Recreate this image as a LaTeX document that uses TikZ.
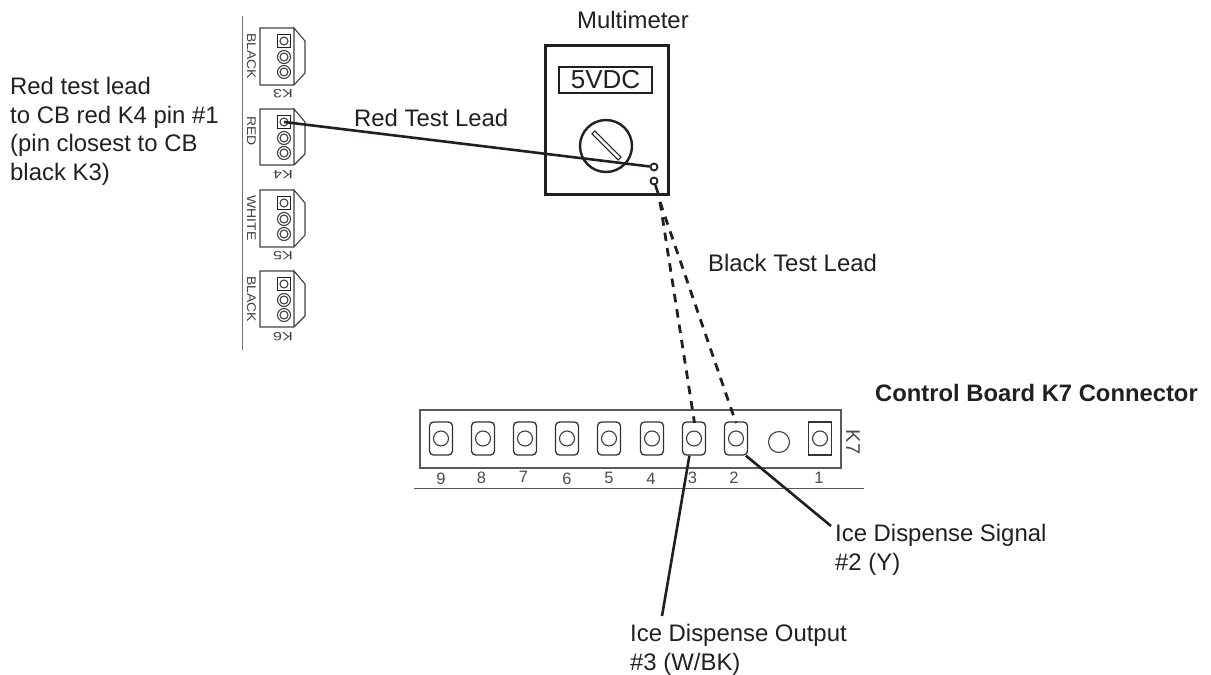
\documentclass[tikz,border=0pt]{standalone}
\usepackage{fontspec}
\setmainfont{Liberation Sans}
\definecolor{ink}{HTML}{231F20}
\tikzset{
  txt/.style={inner sep=0pt,text=ink,align=left,font=\fontsize{23.9}{28.7}\selectfont},
  tiny/.style={inner sep=0pt,text=black!75,font=\fontsize{14}{14}\selectfont,xscale=.9},
  keyname/.style={inner sep=0pt,text=black!75,font=\fontsize{12}{12}\selectfont,xscale=1.35,rotate=180},
  num/.style={inner sep=0pt,text=black!70,font=\fontsize{16.5}{16.5}\selectfont},
  thin line/.style={draw=black!75,line width=1.1pt},
  lead/.style={draw=ink,line width=2.6pt},
  dashlead/.style={draw=ink,line width=2.8pt,dash pattern=on 8.5pt off 7pt},
  squarepin/.style={draw=ink,line width=1.4pt,rectangle,inner sep=0pt,minimum size=13pt},
  roundpin/.style={draw=black!75,line width=1.1pt,circle,inner sep=0pt,minimum size=13pt},
  innerpin/.style={draw=black!75,line width=1.1pt,circle,inner sep=0pt,minimum size=8pt},
  pinbox/.style={draw=black!80,line width=1.3pt,rectangle,rounded corners=4pt,inner sep=0pt,minimum width=23pt,minimum height=33pt},
  pinhole/.style={draw=black!75,line width=1.1pt,circle,inner sep=0pt,minimum size=15pt},
  jack/.style={draw=ink,line width=1.8pt,circle,inner sep=0pt,minimum size=7pt}
}
\begin{document}
\begin{tikzpicture}[x=1pt,y=-1pt]
\useasboundingbox (0,0) rectangle (1211,675);

\draw[draw=black!55,line width=1.3pt] (242.5,16) -- (242.5,350);

\draw[thin line] (294,28) -- (260,28) -- (260,85) -- (294,85) -- (305,73) -- (305,41) -- (294,28) -- (294,85);
\draw[thin line] (294,109) -- (260,109) -- (260,165) -- (294,165) -- (305,154) -- (305,122) -- (294,109) -- (294,165);
\draw[thin line] (294,190) -- (260,190) -- (260,247) -- (294,247) -- (305,235) -- (305,203) -- (294,190) -- (294,247);
\draw[thin line] (294,271) -- (260,271) -- (260,327) -- (294,327) -- (305,316) -- (305,284) -- (294,271) -- (294,327);

\node[squarepin] (k3a) at (284,41) {};
\node[roundpin] (k3b) at (284,57) {};
\node[roundpin] (k3c) at (284,72) {};
\node[squarepin] (k4a) at (284,122) {};
\node[roundpin] (k4b) at (284,138) {};
\node[roundpin] (k4c) at (284,153) {};
\node[squarepin] (k5a) at (284,203) {};
\node[roundpin] (k5b) at (284,219) {};
\node[roundpin] (k5c) at (284,234) {};
\node[squarepin] (k6a) at (284,284) {};
\node[roundpin] (k6b) at (284,300) {};
\node[roundpin] (k6c) at (284,315) {};
\node[innerpin] at (k3a) {};
\node[innerpin] at (k3b) {};
\node[innerpin] at (k3c) {};
\node[innerpin] at (k4a) {};
\node[innerpin] at (k4b) {};
\node[innerpin] at (k4c) {};
\node[innerpin] at (k5a) {};
\node[innerpin] at (k5b) {};
\node[innerpin] at (k5c) {};
\node[innerpin] at (k6a) {};
\node[innerpin] at (k6b) {};
\node[innerpin] at (k6c) {};

\node[tiny,rotate=-90] (blacka) at (251.5,56) {BLACK};
\node[tiny,rotate=-90] (red) at (251.5,131) {RED};
\node[tiny,rotate=-90] (white) at (251.5,218) {WHITE};
\node[tiny,rotate=-90] (blackb) at (251.5,299) {BLACK};
\node[keyname] (k3) at (283,94) {K3};
\node[keyname] (k4) at (283,175) {K4};
\node[keyname] (k5) at (283,256) {K5};
\node[keyname] (k6) at (283,337) {K6};

\node[draw=ink,line width=3pt,rectangle,inner sep=0pt,minimum width=123pt,minimum height=149pt] (meter) at (606.5,119.5) {};
\node[draw=ink,line width=1.1pt,rectangle,inner sep=0pt,minimum width=93pt,minimum height=26pt,font=\fontsize{26}{26}\selectfont,text=ink] (display) at (605.5,80) {5VDC};
\node[draw=ink,line width=2.4pt,circle,inner sep=0pt,minimum size=52pt] (knob) at (606,146) {};
\node[draw=ink,line width=1.1pt,rectangle,inner sep=0pt,minimum width=37pt,minimum height=4pt,rotate=-45] (pointer) at (606.5,145.5) {};
\node[jack] (jackred) at (654,167) {};
\node[jack] (jackblack) at (654,181) {};

\node[draw=black!65,line width=1.3pt,rectangle,inner sep=0pt,minimum width=421pt,minimum height=58pt] (board) at (630.5,439) {};
\draw[draw=black!65,line width=1.3pt] (414,488.5) -- (864,488.5);

\node[pinbox] (p9) at (441,438.5) {};
\node[pinbox] (p8) at (483,438.5) {};
\node[pinbox] (p7) at (525,438.5) {};
\node[pinbox] (p6) at (567,438.5) {};
\node[pinbox] (p5) at (609,438.5) {};
\node[pinbox] (p4) at (652,438.5) {};
\node[pinbox] (p3) at (694,438.5) {};
\node[pinbox] (p2) at (736,438.5) {};
\node[pinbox,rounded corners=0pt] (p1) at (820,438.5) {};
\node[pinhole] at (p9) {};
\node[pinhole] at (p8) {};
\node[pinhole] at (p7) {};
\node[pinhole] at (p6) {};
\node[pinhole] at (p5) {};
\node[pinhole] at (p4) {};
\node[pinhole] at (p3) {};
\node[pinhole] at (p2) {};
\node[pinhole] at (p1) {};
\node[pinhole,minimum size=21pt] (mount) at (779,442) {};

\node[num] (n9) at (441,479) {9};
\node[num] (n8) at (481.5,478) {8};
\node[num] (n7) at (523.5,476.5) {7};
\node[num] (n6) at (567,479) {6};
\node[num] (n5) at (609,478) {5};
\node[num] (n4) at (651,479) {4};
\node[num] (n3) at (692.5,478) {3};
\node[num] (n2) at (734,477.5) {2};
\node[num] (n1) at (819,477.5) {1};
\node[num,rotate=-90,font=\fontsize{20}{20}\selectfont] (k7) at (853,442) {K7};

\node[txt,anchor=west] (multi) at (577,20) {Multimeter};
\node[txt,anchor=west] (redlead) at (354,118) {Red Test Lead};
\node[txt,anchor=west] (blacklead) at (708,263) {Black Test Lead};
\node[txt,anchor=north west] (note) at (10,77) {Red test lead\\to CB red K4 pin \#1\\(pin closest to CB\\black K3)};
\node[txt,anchor=east,font=\fontsize{23.8}{28.7}\selectfont\bfseries] (title) at (1198,393) {Control Board K7 Connector};
\node[txt,anchor=north west] (signal) at (835,524) {Ice Dispense Signal\\\#2 (Y)};
\node[txt,anchor=north west] (output) at (630,624) {Ice Dispense Output\\\#3 (W/BK)};

\coordinate (signalend) at (831,526);
\coordinate (outputend) at (662,616);
\coordinate (exit) at (658,193);
\coordinate (exita) at (660,202);
\coordinate (pa) at (694.5,423);
\coordinate (pb) at (736,423);

\draw[lead] (k4a.center) -- (jackred);
\draw[lead] (jackblack) -- (exit);
\draw[dashlead] (exita) -- (pa);
\draw[dashlead] (exita) -- (pb);
\draw[lead] (p3.-105) -- (outputend);
\draw[lead] (p2.-60) -- (signalend);
\end{tikzpicture}
\end{document}
